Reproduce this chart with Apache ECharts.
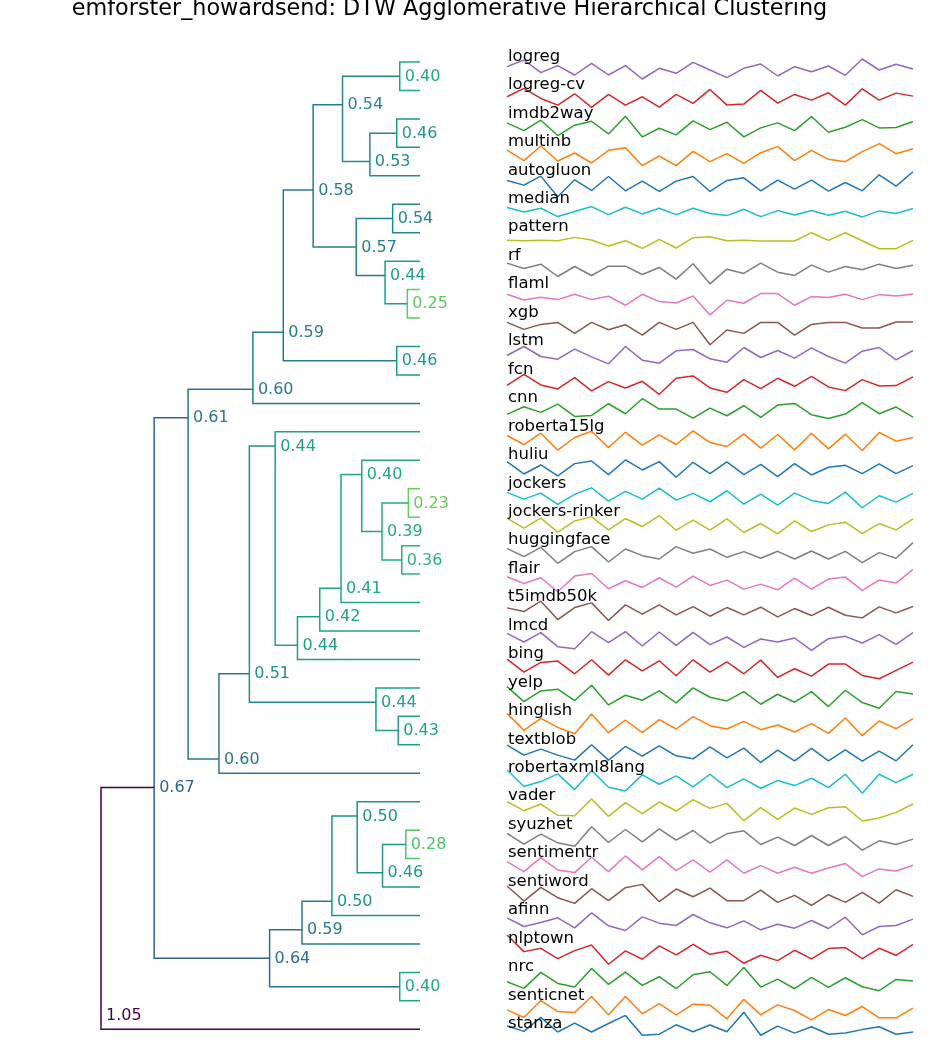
<!DOCTYPE html>
<html><head><meta charset="utf-8">
<script src="https://cdn.jsdelivr.net/npm/echarts@6/dist/echarts.min.js"></script>
<style>html,body{margin:0;padding:0;background:#fff}#c{width:930px;height:1044px}</style>
</head><body><div id="c"></div>
<script>
// ---------- data ----------
const chartTitle = 'emforster_howardsend: DTW Agglomerative Hierarchical Clustering';
const leafNames = ['logreg','logreg-cv','imdb2way','multinb','autogluon','median','pattern','rf','flaml','xgb',
  'lstm','fcn','cnn','roberta15lg','huliu','jockers','jockers-rinker','huggingface','flair','t5imdb50k',
  'lmcd','bing','yelp','hinglish','textblob','robertaxml8lang','vader','syuzhet','sentimentr','sentiword',
  'afinn','nlptown','nrc','senticnet','stanza'];
// linkage (indices >= 35 refer to earlier merges: 35 + merge index)
const mergeLeft  = [0, 2, 36, 35, 5, 8, 7, 39, 38, 10, 43, 45, 15, 17, 47, 14, 50, 51, 52, 13, 23, 22, 54, 57, 46, 27, 60, 26, 62, 63, 32, 64, 59, 67];
const mergeRight = [1, 3, 4, 37, 6, 9, 40, 41, 42, 11, 44, 12, 16, 18, 48, 49, 19, 20, 21, 53, 24, 55, 56, 25, 58, 28, 29, 61, 30, 31, 33, 65, 66, 34];
const mergeDist  = [0.40, 0.46, 0.53, 0.54, 0.54, 0.25, 0.44, 0.57, 0.58, 0.46, 0.59, 0.60, 0.23, 0.36, 0.39, 0.40, 0.41, 0.42, 0.44, 0.44, 0.43, 0.44, 0.51, 0.60, 0.61, 0.28, 0.46, 0.50, 0.50, 0.59, 0.40, 0.64, 0.67, 1.05];

const timeSteps = [1,2,3,4,5,6,7,8,9,10,11,12,13,14,15,16,17,18,19,20,21,22,23,24,25];
const s_logreg = [7, 27, -11, 10, -18, 17, -18, 10, -30, 2, -13, 20, -3, -26, 2, 15, -21, 7, -8, 9, -19, 30, -3, 14, 0];
const s_logreg_cv = [2, 27, -3, -23, 11, -30, 9, -23, 2, -29, 9, -18, 24, -23, -20, 21, -17, 9, -8, 14, -23, 26, -8, 13, 4];
const s_imdb2way = [9, -14, 17, -29, 2, 14, -24, 29, -33, -7, -27, 15, -11, 11, -33, -6, 9, -14, 28, -19, -4, 19, -6, -5, 13];
const s_multinb = [13, -19, 25, -20, 4, -26, 12, 20, -34, -5, -34, 9, -22, 2, -27, 5, 24, -19, 12, -15, -22, 8, 32, 2, 17];
const s_autogluon = [7, -7, 20, -42, 9, -23, 19, -24, 5, -26, 5, 19, -26, 7, 15, -24, 8, -19, 8, -25, 1, -24, 24, -10, 33];
const s_median = [11, -2, 9, -16, -1, 14, -10, 12, -8, 9, -10, 9, -7, -13, 6, -16, 2, -11, 2, -12, 0, -17, 1, -7, 8];
const s_pattern = [-2, -3, -2, -3, 7, -1, -19, -3, -26, 1, -25, 6, 9, -3, -2, -4, -4, -4, 21, -2, 21, -3, -27, -27, -2];
const s_rf = [15, -1, 12, -25, 5, -22, 6, 6, -19, 2, -33, 13, -47, -3, -16, 15, -12, -22, 9, -12, 5, -5, 12, -1, 9];
const s_flaml = [7, -10, -2, -9, 7, -9, 1, -26, 7, -15, -19, 2, -55, -11, -20, 9, 9, -26, 0, -3, 7, -9, 6, 2, 8];
const s_xgb = [8, -13, 2, 8, -25, 8, -14, 1, -30, 8, -13, 8, -59, -15, -25, 8, 8, -30, 2, 8, 8, -9, -9, 9, 9];
const s_lstm = [-6, 21, -9, -17, 13, -10, -31, 21, -20, -29, 8, 12, -16, -26, 18, -12, 9, -14, 17, -9, -29, 7, 18, -19, 9];
const s_fcn = [-10, 23, -9, -21, 13, -27, 1, -18, 2, -37, 11, 18, -18, -31, 7, -20, 11, -13, 17, -15, -26, 7, -12, -11, 15];
const s_cnn = [-12, 11, -6, 19, -18, -15, 20, -10, 35, 4, 4, -23, 7, -16, 14, -21, 16, 21, -13, -24, -11, 23, -10, 10, -20];
const s_roberta15lg = [10, -17, 17, -34, 4, 23, -26, 20, -19, 12, -17, 24, -11, -23, 15, -28, 13, -33, 17, -30, 14, -35, 19, -7, 4];
const s_huliu = [17, -20, 7, -26, 11, 19, -22, 22, -8, 17, -30, 15, -19, 16, -22, 9, -28, 11, -23, 0, 6, -19, 10, -19, 5];
const s_jockers = [10, -10, 8, -26, 4, 24, -16, 13, -10, 23, -13, 7, -18, 15, -25, 5, -28, 8, -14, -23, 11, -36, 0, -19, 7];
const s_jockers_rinker = [18, -12, 18, -24, 10, 22, -17, 17, -7, 26, -18, 12, -18, 16, -25, 2, -29, 10, -22, -2, 6, -28, 2, -17, 16];
const s_huggingface = [13, -12, 16, -32, 3, 18, -28, 11, -9, -19, 18, -2, 11, -14, 3, -17, 4, -19, 5, -19, 4, -30, 0, -17, 30];
const s_flair = [13, -7, 10, -32, 15, 23, -23, 1, -19, 10, -18, 15, -13, 3, -24, -9, -26, 9, -24, 6, 12, -28, 3, -6, 35];
const s_t5imdb50k = [5, -6, 25, -30, 6, 20, -33, 14, -14, 14, -16, 9, -20, 6, -16, 7, -22, 3, -18, 7, -17, -25, 8, -10, 9];
const s_lmcd = [14, -12, 16, -26, -32, 19, -14, 19, -24, 18, -22, 17, -20, 3, -28, -3, -12, 0, -37, -2, 5, -15, 10, -19, 16];
const s_bing = [22, -17, 12, 16, -22, 20, -26, 20, -13, 17, -28, 20, -17, 14, -22, 19, -33, -7, -29, 7, 7, -27, -37, -12, 13];
const s_yelp = [25, -20, 12, 17, -17, 29, -30, -1, -16, 12, -24, 21, -7, -18, 10, -28, 2, -22, 10, -35, 14, -23, -40, 10, 3];
const s_hinglish = [30, -21, 15, -12, -31, 28, -28, 10, -28, 11, -17, 20, -7, -17, 6, -19, -5, -26, -1, -30, 16, -37, 7, -16, 14];
const s_textblob = [20, -10, 8, -10, -25, 21, -25, 16, -13, 18, -12, -21, 15, -18, 11, -32, 5, -27, 10, -27, 6, -28, 2, -27, 21];
const s_robertaxml8lang = [31, -19, -4, 19, -28, 29, -21, -32, 16, -12, 13, -20, 18, -22, 4, -24, -1, -16, 6, -22, 18, -39, 18, -7, 18];
const s_vader = [21, -6, 14, -20, -21, 29, -23, 18, -15, 20, -7, 27, 1, 16, -36, 3, -32, 2, -17, 3, 6, -37, -28, -11, 14];
const s_syuzhet = [11, -21, 9, -17, -27, 31, -16, 23, -14, 25, -9, 20, -18, 10, 19, -22, 0, -25, 5, -25, 2, -39, -11, -22, -6];
const s_sentimentr = [12, -18, 24, -13, -21, 25, -18, 29, -13, 27, -15, 17, -20, 17, -23, 0, -23, -5, -23, -7, 6, -33, -10, -16, 1];
const s_sentiword = [24, -21, 20, -11, -28, 16, -20, 19, 29, -23, 15, -8, 18, -20, -20, 12, -25, -4, -34, -2, -25, 5, -27, 13, -7];
const s_afinn = [14, -12, 0, 14, -16, 29, -10, -24, 17, -2, -9, 24, -1, -16, 5, -22, -5, -17, 6, -18, 16, -37, -12, -9, 10];
const s_nlptown = [48, -2, 8, -23, 1, 18, -40, 0, -25, 15, -12, 20, -10, -1, -37, -13, -29, 2, -24, 7, 10, -23, 8, -13, 20];
const s_nrc = [-7, -27, 21, -12, -23, 33, -15, 22, -18, 8, -28, 14, 23, -18, 36, -23, 1, -28, 6, -24, 5, -22, -34, 0, -5];
const s_senticnet = [-6, -29, 22, -11, -14, 34, -21, 34, -18, 13, -21, 11, 8, -33, 26, -21, 9, -8, -36, -5, -23, 4, -30, -30, -1];
const s_stanza = [9, -17, 47, -20, 21, -20, 19, 56, -35, -30, 13, -19, 12, -19, 71, -35, 7, -25, 4, -30, -25, -9, 4, -30, -20];

const sparkSeries = [s_logreg, s_logreg_cv, s_imdb2way, s_multinb, s_autogluon, s_median, s_pattern, s_rf, s_flaml, s_xgb,
  s_lstm, s_fcn, s_cnn, s_roberta15lg, s_huliu, s_jockers, s_jockers_rinker, s_huggingface, s_flair, s_t5imdb50k,
  s_lmcd, s_bing, s_yelp, s_hinglish, s_textblob, s_robertaxml8lang, s_vader, s_syuzhet, s_sentimentr, s_sentiword,
  s_afinn, s_nlptown, s_nrc, s_senticnet, s_stanza];

// ---------- styles ----------
const tab10 = ['#1f77b4','#ff7f0e','#2ca02c','#d62728','#9467bd','#8c564b','#e377c2','#7f7f7f','#bcbd22','#17becf'];
const viridisStops = ['#440154','#471365','#482475','#463480','#414487','#3b528b','#355f8d','#2f6c8e','#2a788e','#25848e',
  '#21918c','#1e9c89','#22a884','#2fb47c','#44bf70','#5ec962','#7ad151','#9bd93c','#bddf26','#dfe318','#fde725'];
function hex2rgb(h){return [parseInt(h.slice(1,3),16),parseInt(h.slice(3,5),16),parseInt(h.slice(5,7),16)];}
function viridis(t){
  t = Math.max(0, Math.min(1, t));
  const f = t * (viridisStops.length - 1), i = Math.min(Math.floor(f), viridisStops.length - 2), r = f - i;
  const a = hex2rgb(viridisStops[i]), b = hex2rgb(viridisStops[i+1]);
  const c = a.map((v,k)=>Math.round(v + (b[k]-v)*r));
  return 'rgb(' + c.join(',') + ')';
}
const FONT = 'DejaVu Sans';

// ---------- dendrogram layout (from linkage) ----------
const N = leafNames.length;
const nodeC = leafNames.map(()=>0);
const nodeY = leafNames.map((_, i)=>i);
const nodeLast = leafNames.map((_, i)=>i);
const links = [];
mergeDist.forEach((d, k)=>{
  const a = mergeLeft[k], b = mergeRight[k], id = N + k;
  nodeC[id] = Math.max(nodeC[a], nodeC[b]) + d;
  nodeLast[id] = nodeLast[b];
  nodeY[id] = nodeLast[a] + 0.5;
  links.push([nodeC[a], nodeY[a], nodeC[id], nodeY[b], nodeC[b], d, nodeY[id]]);
});
const rootC = nodeC[N + mergeDist.length - 1];

// ---------- option ----------
const rowStep = 28.45;
const grids = [{left: 101, right: 510, top: 62, height: rowStep * (N - 1)}];
const xAxes = [{type:'value', gridIndex:0, inverse:true, min:0, max:rootC, show:false}];
const yAxes = [{type:'value', gridIndex:0, inverse:true, min:0, max:N-1, show:false}];
const series = [{
  type:'custom', xAxisIndex:0, yAxisIndex:0, silent:true, animation:false,
  encode:{x:[0,2,4], y:[1,3,6]},
  data: links,
  renderItem(params, api){
    const p1 = api.coord([api.value(0), api.value(1)]);
    const p2 = api.coord([api.value(2), api.value(1)]);
    const p3 = api.coord([api.value(2), api.value(3)]);
    const p4 = api.coord([api.value(4), api.value(3)]);
    const pl = api.coord([api.value(2), api.value(6)]);
    const d = api.value(5);
    const color = viridis(1 - d);
    return {type:'group', children:[
      {type:'polyline', shape:{points:[p1,p2,p3,p4]}, style:{stroke:color, lineWidth:1.5, fill:null}},
      {type:'text', x: pl[0] + 5, y: pl[1] + 0.5,
        style:{text: d.toFixed(2), fill: color, fontSize:16, fontFamily:FONT, align:'left', verticalAlign:'middle'}}
    ]};
  }
}];
const graphics = [{type:'text', x:449.5, y:9.5, style:{text:chartTitle, fill:'#000', fontSize:22.3, fontFamily:FONT, align:'center', verticalAlign:'middle'}}];

sparkSeries.forEach((vals, i)=>{
  const g = i + 1;
  const color = tab10[(N - 1 - i) % 10];
  grids.push({left:507, width:406, top: 44 + rowStep * i, height: 50});
  xAxes.push({type:'category', gridIndex:g, data:timeSteps, boundaryGap:false, show:false});
  yAxes.push({type:'value', gridIndex:g, min:-75, max:75, show:false});
  series.push({type:'line', xAxisIndex:g, yAxisIndex:g, data:vals, symbol:'none', silent:true, animation:false,
    clip:false, color:color, lineStyle:{width:1.5, color:color}});
  graphics.push({type:'text', x:508, y:56.5 + rowStep * i, z:10,
    style:{text:leafNames[i], fill:'#000', fontSize:16.5, fontFamily:FONT, align:'left', verticalAlign:'middle'}});
});

const chart = echarts.init(document.getElementById('c'), null, {renderer:'canvas'});
chart.setOption({
  backgroundColor:'#fff', animation:false,
  grid: grids, xAxis: xAxes, yAxis: yAxes, series: series, graphic: graphics,
  tooltip:{show:false}
});
</script></body></html>
